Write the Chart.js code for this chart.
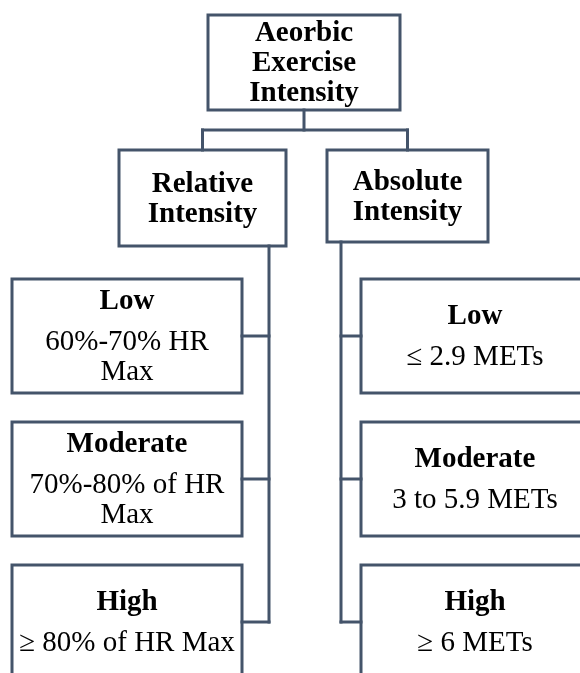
<!DOCTYPE html>
<html>
<head>
<meta charset="utf-8">
<script src="https://cdn.jsdelivr.net/npm/chart.js@4"></script>
<style>
  body { margin: 0; background: #fff; }
  #wrap { width: 580px; height: 673px; }
</style>
</head>
<body>
<div id="wrap"><canvas id="tree"></canvas></div>
<script>
// texts of the tree
var rootLines = ['Aeorbic', 'Exercise', 'Intensity'];
var branchLabels = [['Relative', 'Intensity'], ['Absolute', 'Intensity']];
var levelNames = ['Low', 'Moderate', 'High'];
var relativeRanges = [['60%-70% HR', 'Max'], ['70%-80% of HR', 'Max'], ['\u2265 80% of HR Max']];
var absoluteRanges = [['\u2264 2.9 METs'], ['3 to 5.9 METs'], ['\u2265 6 METs']];

// layout, in diagram units (x 0..580, y 0..673 top to bottom)
var rootBox = [208, 15, 400, 110];
var branchBoxes = [[119, 150, 286, 246], [327, 150, 488, 242]];
var busY = 130;
var spineX = [269, 341];
var leafCols = [[12, 242], [361, 589]];
var leafRows = [[279, 393], [422, 536], [565, 679]];

var lineColor = '#44546a';
var boldFont = 'bold 29px "Liberation Serif", "Times New Roman", serif';
var normalFont = '29px "Liberation Serif", "Times New Roman", serif';

function rect(b) {
    return [{x:b[0],y:b[1]},{x:b[2],y:b[1]},{x:b[2],y:b[3]},{x:b[0],y:b[3]},{x:b[0],y:b[1]}];
}
function seg(x1, y1, x2, y2) {
    return [{x:x1,y:y1},{x:x2,y:y2}];
}

// boxes + connectors as line datasets
var shapes = [];
var nodes = [];   // text to write: box + lines + bold count

shapes.push(rect(rootBox));
nodes.push({box: rootBox, lines: rootLines, bold: rootLines.length});

var rootCx = (rootBox[0] + rootBox[2]) / 2;
shapes.push(seg(rootCx, rootBox[3], rootCx, busY));
var bx = branchBoxes.map(function(b){ return (b[0] + b[2]) / 2; });
shapes.push(seg(bx[0], busY, bx[1], busY));

var ranges = [relativeRanges, absoluteRanges];
branchBoxes.forEach(function(b, i) {
    shapes.push(rect(b));
    shapes.push(seg(bx[i], busY, bx[i], b[1]));
    nodes.push({box: b, lines: branchLabels[i], bold: 2});
    var lastRow = leafRows[leafRows.length - 1];
    shapes.push(seg(spineX[i], b[3], spineX[i], (lastRow[0] + lastRow[1]) / 2));
    leafRows.forEach(function(r, j) {
        var box = [leafCols[i][0], r[0], leafCols[i][1], r[1]];
        shapes.push(rect(box));
        var cy = (r[0] + r[1]) / 2;
        var edge = i === 0 ? leafCols[i][1] : leafCols[i][0];
        shapes.push(seg(edge, cy, spineX[i], cy));
        nodes.push({box: box, lines: [levelNames[j]].concat(ranges[i][j]), bold: 1});
    });
});

var textPlugin = {
    id: 'boxText',
    afterDatasetsDraw: function(chart) {
        var ctx = chart.ctx, xs = chart.scales.x, ys = chart.scales.y;
        ctx.save();
        ctx.fillStyle = '#000';
        ctx.textAlign = 'center';
        ctx.textBaseline = 'alphabetic';
        nodes.forEach(function(n) {
            var cx = (n.box[0] + n.box[2]) / 2;
            var cy = (n.box[1] + n.box[3]) / 2;
            // gaps between baselines
            var offs = [0];
            for (var k = 1; k < n.lines.length; k++) {
                var gap = (k === n.bold && n.bold < n.lines.length) ? 41 : 30;
                offs.push(offs[k - 1] + gap);
            }
            var span = offs[offs.length - 1];
            var first = cy - span / 2 + 8.5;
            n.lines.forEach(function(t, k) {
                ctx.font = k < n.bold ? boldFont : normalFont;
                ctx.fillText(t, xs.getPixelForValue(cx), ys.getPixelForValue(first + offs[k]));
            });
        });
        ctx.restore();
    }
};

var tree = new Chart(document.getElementById('tree'), {
    type: 'scatter',
    data: {
        datasets: shapes.map(function(pts) {
            return {
                data: pts,
                showLine: true,
                fill: false,
                pointRadius: 0,
                borderWidth: 3,
                borderColor: lineColor,
                borderCapStyle: 'square',
                borderJoinStyle: 'miter',
                tension: 0
            };
        })
    },
    options: {
        responsive: true,
        maintainAspectRatio: false,
        animation: false,
        events: [],
        layout: { padding: 0 },
        plugins: { legend: { display: false }, tooltip: { enabled: false } },
        scales: {
            x: { type: 'linear', min: 0, max: 580, display: false },
            y: { type: 'linear', min: 0, max: 673, reverse: true, display: false }
        }
    },
    plugins: [textPlugin]
});
</script>
</body>
</html>
